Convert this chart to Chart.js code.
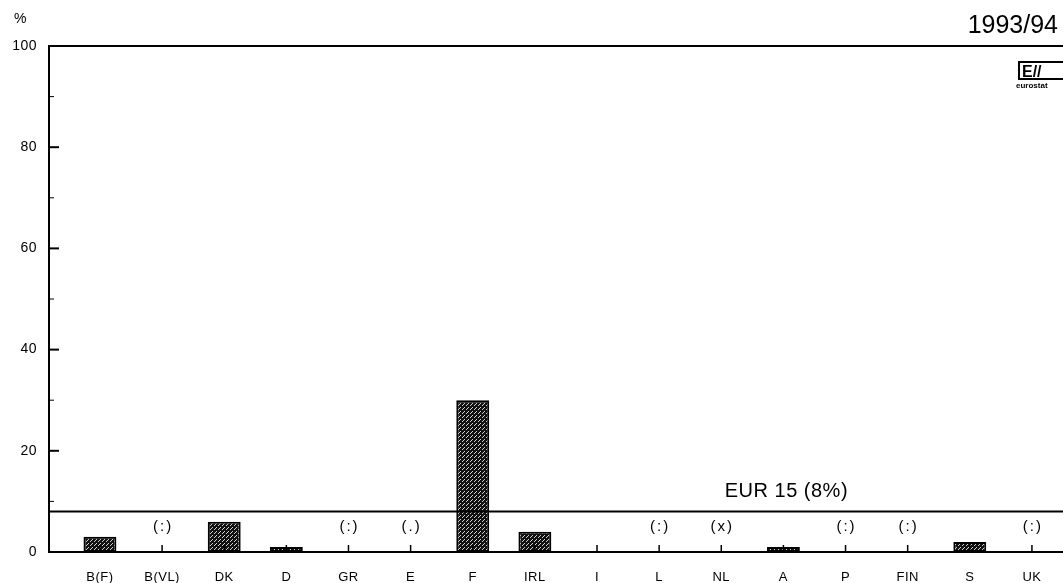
<!DOCTYPE html>
<html>
<head>
<meta charset="utf-8">
<script src="https://cdn.jsdelivr.net/npm/chart.js@4"></script>
<style>
  html, body { margin: 0; padding: 0; background: #fff; overflow: hidden; }
  #wrap { width: 1063px; height: 583px; position: relative; }
</style>
</head>
<body>
<div id="wrap"><canvas id="chart" width="1063" height="583"></canvas></div>
<script>
// values
const categories = ['B(F)', 'B(VL)', 'DK', 'D', 'GR', 'E', 'F', 'IRL', 'I', 'L', 'NL', 'A', 'P', 'FIN', 'S', 'UK']
const shares = [3, null, 6, 1, null, null, 30, 4, 0, null, null, 1, null, null, 2, null]
const flags = ['', '(:)', '', '', '(:)', '(.)', '', '', '', '(:)', '(x)', '', '(:)', '(:)', '', '(:)']
const eurAverage = 8
const eurLabel = 'EUR 15 (8%)'
const yearLabel = '1993/94'
const unitLabel = '%'

const FONT = '"Liberation Sans", Arial, sans-serif'

function hatch() {
    const c = document.createElement('canvas')
    c.width = 4; c.height = 4
    const g = c.getContext('2d')
    g.fillStyle = '#111'
    g.fillRect(0, 0, 4, 4)
    g.fillStyle = '#d0d0d0'
    g.fillRect(3, 0, 1, 1)
    g.fillRect(2, 1, 1, 1)
    g.fillRect(0, 3, 1, 1)
    return g.createPattern(c, 'repeat')
}

const decor = {
    id: 'decor',
    beforeDraw(chart) {
        chart.ctx.letterSpacing = '0.5px'
    },
    afterDatasetsDraw(chart) {
        const ctx = chart.ctx
        const a = chart.chartArea
        const x = chart.scales.x
        const y = chart.scales.y
        ctx.save()
        ctx.strokeStyle = '#000'
        ctx.fillStyle = '#000'

        // top frame line
        ctx.lineWidth = 2
        ctx.beginPath()
        ctx.moveTo(a.left, a.top)
        ctx.lineTo(chart.width, a.top)
        ctx.stroke()

        // inward ticks on the value axis
        y.ticks.forEach(t => {
            const py = y.getPixelForValue(t.value)
            const major = t.value % 20 === 0
            ctx.lineWidth = major ? 2 : 1
            ctx.beginPath()
            ctx.moveTo(a.left, py)
            ctx.lineTo(a.left + (major ? 10 : 5), py)
            ctx.stroke()
        })

        // small ticks at each country
        const y0 = y.getPixelForValue(0)
        ctx.lineWidth = 1.5
        categories.forEach((c, i) => {
            const px = x.getPixelForValue(i)
            ctx.beginPath()
            ctx.moveTo(px, y0)
            ctx.lineTo(px, y0 - 7)
            ctx.stroke()
        })

        // EUR 15 reference line
        const py = y.getPixelForValue(eurAverage)
        ctx.lineWidth = 2
        ctx.beginPath()
        ctx.moveTo(a.left, py)
        ctx.lineTo(chart.width, py)
        ctx.stroke()
        ctx.letterSpacing = '0.5px'
        ctx.font = '20px ' + FONT
        ctx.textAlign = 'center'
        ctx.textBaseline = 'alphabetic'
        ctx.fillText(eurLabel, x.getPixelForValue(11) + 3, py - 15)

        // missing-data flags
        ctx.letterSpacing = '2px'
        ctx.font = '15px ' + FONT
        ctx.textBaseline = 'middle'
        flags.forEach((f, i) => {
            if (f) ctx.fillText(f, x.getPixelForValue(i) + 1, y0 - 25)
        })

        // headings
        ctx.letterSpacing = '0px'
        ctx.textBaseline = 'alphabetic'
        ctx.font = '14px ' + FONT
        ctx.textAlign = 'left'
        ctx.fillText(unitLabel, 14, 23)
        ctx.font = '25px ' + FONT
        ctx.textAlign = 'right'
        ctx.fillText(yearLabel, 1058, 33)

        // eurostat mark
        ctx.lineWidth = 2
        ctx.strokeRect(1019, 62, 50, 17)
        ctx.font = 'bold 16px ' + FONT
        ctx.textAlign = 'left'
        ctx.fillText('E//', 1022, 77)
        ctx.font = 'bold 8px ' + FONT
        ctx.fillText('eurostat', 1016, 88)
        ctx.restore()
    }
}

const ctx = document.getElementById('chart')
new Chart(ctx, {
    type: 'bar',
    data: {
        datasets: [{
            data: shares.map((v, i) => ({ x: i, y: v })),
            backgroundColor: hatch(),
            borderColor: '#000',
            borderWidth: 2,
            borderSkipped: false,
            barPercentage: 0.53,
            categoryPercentage: 1
        }]
    },
    options: {
        responsive: false,
        animation: false,
        devicePixelRatio: 1,
        layout: { padding: { left: 0, right: 0, top: 46, bottom: 0 } },
        plugins: { legend: { display: false }, tooltip: { enabled: false } },
        scales: {
            x: {
                type: 'linear',
                offset: false,
                min: -0.82,
                max: 15.5,
                afterBuildTicks: s => { s.ticks = categories.map((c, i) => ({ value: i })) },
                afterFit: s => { s.height = 31 },
                grid: { display: false },
                border: { display: true, color: '#000', width: 2 },
                ticks: {
                    autoSkip: false,
                    maxRotation: 0,
                    padding: 10,
                    color: '#000',
                    font: { family: FONT, size: 13 },
                    callback: v => categories[v]
                }
            },
            y: {
                min: 0,
                max: 100,
                afterFit: s => { s.width = 49 },
                grid: { display: false },
                border: { display: true, color: '#000', width: 2 },
                ticks: {
                    stepSize: 10,
                    padding: 4,
                    color: '#000',
                    font: { family: FONT, size: 14 },
                    callback: v => (v % 20 === 0 ? v : '')
                }
            }
        }
    },
    plugins: [decor]
})
</script>
</body>
</html>
